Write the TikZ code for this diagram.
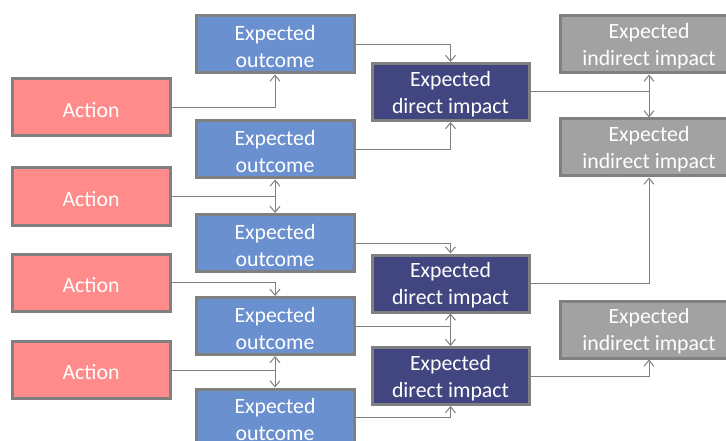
\documentclass[tikz,border=0pt]{standalone}
\usepackage{fontspec}
\setmainfont{Carlito}
\usetikzlibrary{arrows.meta}
\definecolor{actfill}{RGB}{255,139,139}
\definecolor{outfill}{RGB}{106,144,208}
\definecolor{dirfill}{RGB}{65,70,128}
\definecolor{indfill}{RGB}{162,162,162}
\definecolor{edgegray}{RGB}{128,128,128}
\tikzset{
  box/.style={draw=edgegray, line width=3pt, text=white, align=center,
    minimum height=57pt, inner sep=0pt,
    font=\fontsize{21.8}{27}\selectfont},
  % an invisible strut a little taller than the text sets it lower in its box
  oneline/.style={box, execute at begin node={\rule{0pt}{19.5pt}}},
  twoline/.style={box, execute at begin node={\rule{0pt}{46.3pt}}},
  actbox/.style={oneline, fill=actfill, minimum width=158pt},
  outbox/.style={twoline, fill=outfill, minimum width=158pt},
  dirbox/.style={twoline, fill=dirfill, minimum width=157pt},
  indbox/.style={twoline, fill=indfill, minimum width=178pt},
  link/.style={draw=edgegray, line width=1pt,
    -{Straight Barb[length=6pt,width=10pt]}}
}
\begin{document}
\begin{tikzpicture}[x=1pt,y=-1pt]
\useasboundingbox (0,0) rectangle (726,441);

% actions
\node[actbox] (a1) at (91,107.5) {Action};
\node[actbox] (a2) at (91,196.5) {Action};
\node[actbox] (a3) at (91,282.5) {Action};
\node[actbox] (a4) at (91,370) {Action};

% expected outcomes
\node[outbox] (o1) at (275,44.5) {Expected\\outcome};
\node[outbox] (o2) at (275,149.5) {Expected\\outcome};
\node[outbox] (o3) at (275,243) {Expected\\outcome};
\node[outbox] (o4) at (275,326) {Expected\\outcome};
\node[outbox] (o5) at (275,417.5) {Expected\\outcome};

% expected direct impacts
\node[dirbox] (d1) at (450.5,92) {Expected\\direct impact};
\node[dirbox] (d2) at (450.5,283.5) {Expected\\direct impact};
\node[dirbox] (d3) at (450.5,376) {Expected\\direct impact};

% expected indirect impacts
\node[indbox] (i1) at (649,44.5) {Expected\\indirect impact};
\node[indbox] (i2) at (649,147.5) {Expected\\indirect impact};
\node[indbox] (i3) at (649,329.5) {Expected\\indirect impact};

% actions to outcomes
\draw[link] (a1.east) -| (o1.south);
\draw[link] (a2.east) -| (o2.south);
\draw[link] (a2.east) -| (o3.north);
\draw[link] (a3.east) -| (o4.north);
\draw[link] (a4.east) -| (o4.south);
\draw[link] (a4.east) -| (o5.north);

% outcomes to direct impacts
\draw[link] (o1.east) -| (d1.north);
\draw[link] (o2.east) -| (d1.south);
\draw[link] (o3.east) -| (d2.north);
\draw[link] (o4.east) -| (d2.south);
\draw[link] (o4.east) -| (d3.north);
\draw[link] (o5.east) -| (d3.south);

% direct to indirect impacts
\draw[link] (d1.east) -| (i1.south);
\draw[link] (d1.east) -| (i2.north);
\draw[link] (d2.east) -| (i2.south);
\draw[link] (d3.east) -| (i3.south);
\end{tikzpicture}
\end{document}
